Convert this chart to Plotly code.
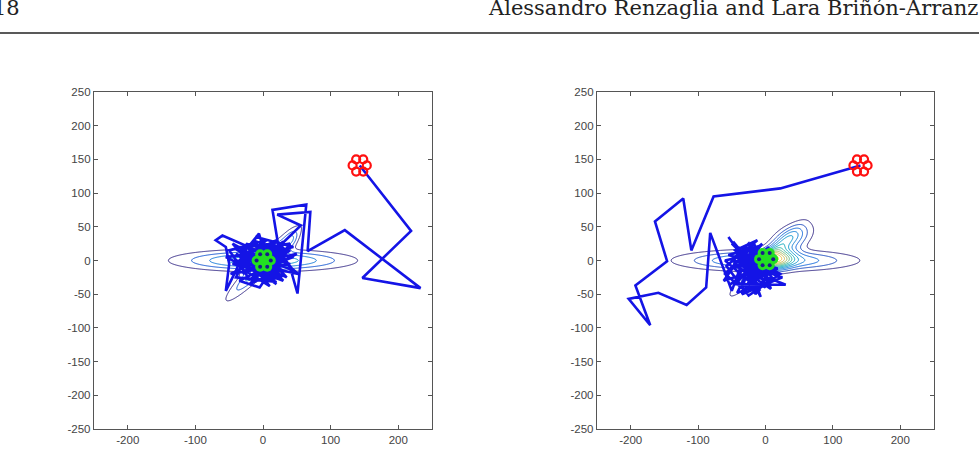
import numpy as np
import plotly.graph_objects as go

# ---------------- data ----------------
tick_vals = [-250, -200, -150, -100, -50, 0, 50, 100, 150, 200, 250]
tick_text = ["-250", "-200", "-150", "-100", "-50", "0", "50", "100", "150", "200", "250"]
x_tick_vals = [-200, -100, 0, 100, 200]
x_tick_text = ["-200", "-100", "0", "100", "200"]

# Gaussian components of the scalar field: (amplitude, cx, cy, sigma_long, sigma_short, angle_deg)
left_field = [
    (1.0, 0, 0, 78, 9.5, 0),
    (0.8, 0, -5, 46, 7.5, 45),
    (0.35, 42, 30, 10, 6, 60),
    (0.5, 5, 0, 14, 10, 0),
]
right_field = [
    (1.0, 0, 0, 78, 9.5, 0),
    (0.7, -5, -5, 42, 7, 45),
    (0.8, 38, 32, 22, 12, 30),
    (1.2, 18, 2, 16, 10, 10),
]
contour_start, contour_end, contour_step = 0.2, 3.2, 0.2

# trajectories (centroid path of the formation)
left_path_x = [143, 219, 147, 233, 121, 66, 70, 21, 56, 23, 14, 64, 51, 40,
               10, -30, 25, -15, 35, -40, 20, -10, 45, -25, 5, 30, -45, 15, -20, 40,
               -5, -35, 25, -60, -70, -55, -50, -55, -40, -30, -6, 0, 20, -15, 35,
               10, -25, 30, -5, 45, 15, -35, 0, 25, -20, 10, 40, -10, 20, -30, 5,
               -50, -20, 50, -35, 10, -45, 30, -25, 45, -10, -40, 20, -55, 35, -15,
               0, -30, 40, -48, 15, 30, -20, -38, 52, 5, -12, 28, -42, 18, -5,
               30, -15, 15, -5, 25, -10, 5, 2]
left_path_y = [141, 44, -26, -41, 45, 14, 72, 68, 52, 20, 75, 83, -49, -10,
               25, -20, 15, 30, -25, 10, -35, -15, 5, 25, -30, 20, -5, -20, 15, 25,
               -40, -30, 0, 37, 30, 20, -5, -45, -15, 10, 40, 20, 30, -25, -5,
               10, -10, -30, 5, -15, 25, 20, -20, -15, -35, -5, 15, 20, -25, 0, 30,
               15, -28, 10, -10, -38, 25, -15, 5, 20, 35, -25, -32, 5, 15, -12,
               -22, 22, -5, -20, 12, 28, -8, 0, -20, 22, -30, -25, 18, -15, 10,
               10, -5, -10, 15, 5, -10, 8, 0]

right_path_x = [141, 22, -77, -110, -122, -164, -146, -193, -171, -203, -159, -117, -88,
                -82, -50, -30, -10, -55, -20, 5, -40, 0, -25, -50, 10, -15, -35, 20,
                -5, -45, 30, -10, -30, -60, -20, 5, -40, -7, -25, 15, -35, -15, 0,
                -50, -5, -30, -20, 10, -45, -10, -25, 5, -15, -35, -5, -20, 0,
                -62, -28, 12, -42, -8, -55, 18, -33, -18, 8, -48, -2, -38, 22, -25,
                -58, -12, -45, 5, -30, -52, 15, -20, -40, -8, -60, 2, -35, 25, -15,
                -48, -25, 10, -5, 5]
right_path_y = [141, 107, 95, 15, 92, 58, -1, -37, -96, -57, -48, -66, -40,
                41, -45, 10, -30, 35, -15, 20, -20, -40, 25, 0, -10, -50, 15, -25,
                5, -35, -36, -20, -45, -20, 20, -15, 5, -54, -5, 0, -25, 10, -25,
                25, -10, -10, -40, 10, -10, 15, -30, -5, -20, 0, 25, 5, -10,
                -30, 18, -28, -48, 22, 8, -12, -38, 28, -42, -5, -18, 12, -20, -52,
                -8, 30, 15, -30, -20, -35, 8, -28, 20, -45, 0, 15, -50, -25, -12,
                28, -22, -18, 8, 2]

# formation: start (red) and end (green) centres, agent offsets
left_start, left_end = (143, 141), (1, 0)
right_start, right_end = (141, 141), (1, 2)
formation_angles_deg = [0, 60, 120, 180, 240, 300]
formation_radius = 10.5

parula = [[0.0, "#352a87"], [0.125, "#0f5cdd"], [0.25, "#1481d6"], [0.375, "#06a4ca"],
          [0.5, "#2eb7a4"], [0.625, "#87bf77"], [0.75, "#d1bb59"], [0.875, "#fec832"],
          [1.0, "#f9fb0e"]]

# ---------------- build ----------------
gx = np.linspace(-250, 250, 501)
gy = np.linspace(-250, 250, 501)
GX, GY = np.meshgrid(gx, gy)


def field(components):
    z = np.zeros_like(GX)
    for a, cx, cy, sl, ss, ang in components:
        t = np.deg2rad(ang)
        dx, dy = GX - cx, GY - cy
        u = dx * np.cos(t) + dy * np.sin(t)
        v = -dx * np.sin(t) + dy * np.cos(t)
        z += a * np.exp(-0.5 * ((u / sl) ** 2 + (v / ss) ** 2))
    return z


def formation(center):
    ang = np.deg2rad(formation_angles_deg)
    return (center[0] + formation_radius * np.cos(ang),
            center[1] + formation_radius * np.sin(ang))


fig = go.Figure()

panels = [
    (left_field, left_path_x, left_path_y, left_start, left_end, "x", "y", 2.0),
    (right_field, right_path_x, right_path_y, right_start, right_end, "x2", "y2", 2.8),
]
for fld, px, py, st, en, xa, ya, zmax in panels:
    z = field(fld)
    fig.add_trace(go.Contour(
        x=gx, y=gy, z=z, xaxis=xa, yaxis=ya,
        contours=dict(coloring="lines", start=contour_start, end=contour_end, size=contour_step),
        colorscale=parula, zmin=contour_start, zmax=zmax, zauto=False,
        line=dict(width=1), showscale=False, hoverinfo="skip"))
    fig.add_trace(go.Scatter(x=px, y=py, mode="lines", xaxis=xa, yaxis=ya,
                             line=dict(color="#1414e6", width=2.6), hoverinfo="skip"))
    sx, sy = formation(st)
    fig.add_trace(go.Scatter(x=sx, y=sy, mode="markers", xaxis=xa, yaxis=ya,
                             marker=dict(symbol="circle-open", size=8, color="#ff1010",
                                         line=dict(width=2.2, color="#ff1010"))))
    ex, ey = formation(en)
    fig.add_trace(go.Scatter(x=ex, y=ey, mode="markers", xaxis=xa, yaxis=ya,
                             marker=dict(symbol="circle", size=10, color="#22e022",
                                         line=dict(width=0))))
    fig.add_trace(go.Scatter(x=[en[0]], y=[en[1]], mode="markers", xaxis=xa, yaxis=ya,
                             marker=dict(symbol="circle", size=12, color="#22e022")))
    fig.add_trace(go.Scatter(x=ex, y=ey, mode="markers", xaxis=xa, yaxis=ya,
                             marker=dict(symbol="circle", size=4, color="#1a1a8a")))

axis_common = dict(range=[-250, 250], showgrid=False, zeroline=False, ticks="inside",
                   ticklen=4, tickwidth=1, tickcolor="#555", showline=True,
                   linecolor="#555", linewidth=1.3, mirror="ticks", automargin=False,
                   tickfont=dict(family="Liberation Sans, Arial", size=11.5, color="#444"))

fig.update_layout(
    template="none",
    width=979, height=460, margin=dict(l=0, r=0, t=0, b=0, pad=0, autoexpand=False),
    paper_bgcolor="white", plot_bgcolor="white", showlegend=False,
    xaxis=dict(domain=[0.0960, 0.4413], anchor="y", tickvals=x_tick_vals, ticktext=x_tick_text, **axis_common),
    yaxis=dict(domain=[0.0674, 0.800], anchor="x", tickvals=tick_vals, ticktext=tick_text, **axis_common),
    xaxis2=dict(domain=[0.6098, 0.9540], anchor="y2", tickvals=x_tick_vals, ticktext=x_tick_text, **axis_common),
    yaxis2=dict(domain=[0.0674, 0.800], anchor="x2", tickvals=tick_vals, ticktext=tick_text, **axis_common),
    shapes=[dict(type="line", xref="paper", yref="paper", x0=0, x1=1,
                 y0=(460 - 33) / 460, y1=(460 - 33) / 460,
                 line=dict(color="#222", width=1.5))],
    annotations=[
        dict(text="18", xref="paper", yref="paper", x=22 / 979, y=(460 - 8) / 460,
             xanchor="right", yanchor="middle", showarrow=False,
             font=dict(family="DejaVu Serif", size=21, color="#222")),
        dict(text="Alessandro Renzaglia and Lara Briñón-Arranz", xref="paper", yref="paper",
             x=486 / 979, y=(460 - 8) / 460, xanchor="left", yanchor="middle", showarrow=False,
             font=dict(family="DejaVu Serif", size=21, color="#222")),
    ],
)

fig.write_html("out.html")
